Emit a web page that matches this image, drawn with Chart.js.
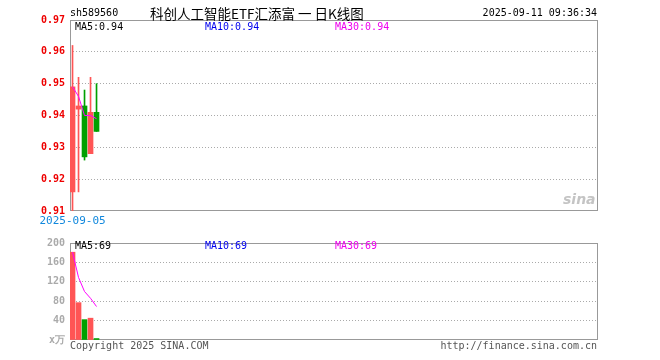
<!DOCTYPE html>
<html><head><meta charset="utf-8">
<script src="https://cdn.jsdelivr.net/npm/chart.js@4.4.0/dist/chart.umd.min.js"></script>
<style>
html,body{margin:0;padding:0;background:#fff;}
#wrap{position:relative;width:660px;height:360px;overflow:hidden;background:#fff;}
canvas{position:absolute;left:0;}
.t{position:absolute;white-space:nowrap;font-family:"DejaVu Sans Mono",monospace;font-size:10px;line-height:12px;}
</style></head><body>
<div id="wrap">
<canvas id="k" width="660" height="232" style="top:0"></canvas>
<canvas id="v" width="660" height="128" style="top:232px"></canvas>
<div class="t" style="left:70px;top:7px;color:#000">sh589560</div>
<div class="t" style="left:150px;top:5px;font-family:'Noto Sans CJK SC',sans-serif;font-size:13.5px;line-height:16px;color:#000">科创人工智能ETF汇添富&nbsp;一&nbsp;日K线图</div>
<div class="t" style="right:63px;top:7px;color:#000">2025-09-11 09:36:34</div>
<div class="t" id="ma5k" style="left:75px;top:21px;color:#000"></div>
<div class="t" id="ma10k" style="left:205px;top:21px;color:#0000ee"></div>
<div class="t" id="ma30k" style="left:335px;top:21px;color:#ee00ee"></div>
<div class="t" id="ma5v" style="left:75px;top:240px;color:#000"></div>
<div class="t" id="ma10v" style="left:205px;top:240px;color:#0000ee"></div>
<div class="t" id="ma30v" style="left:335px;top:240px;color:#ee00ee"></div>
<div class="t" style="left:563px;top:191px;font-family:'DejaVu Sans',sans-serif;font-style:italic;font-weight:bold;font-size:14px;line-height:16px;color:#c4c4c4">sina</div>
<div class="t" style="left:70px;top:340px;color:#555">Copyright 2025 SINA.COM</div>
<div class="t" style="right:63px;top:340px;color:#555">http://finance.sina.com.cn</div>
</div>
<script>
const code = 'sh589560';
const dates = ['2025-09-05','2025-09-08','2025-09-09','2025-09-10','2025-09-11'];
const openP  = [0.916, 0.942, 0.943, 0.928, 0.941];
const closeP = [0.949, 0.943, 0.927, 0.941, 0.935];
const highP  = [0.962, 0.952, 0.948, 0.952, 0.950];
const lowP   = [0.910, 0.916, 0.926, 0.928, 0.935];
const ma5P   = [0.949, 0.946, 0.940, 0.940, 0.939];
const volume = [181, 77, 42, 45, 3];
const ma5Vol = [181, 129, 100, 86, 69];
const priceTicks = [0.91, 0.92, 0.93, 0.94, 0.95, 0.96, 0.97];
const volTicks = [0, 40, 80, 120, 160, 200];
const maLabelsK = {ma5:'0.94', ma10:'0.94', ma30:'0.94'};
const maLabelsV = {ma5:'69', ma10:'69', ma30:'69'};
const SLOTS = 88;

document.getElementById('ma5k').textContent = 'MA5:' + maLabelsK.ma5;
document.getElementById('ma10k').textContent = 'MA10:' + maLabelsK.ma10;
document.getElementById('ma30k').textContent = 'MA30:' + maLabelsK.ma30;
document.getElementById('ma5v').textContent = 'MA5:' + maLabelsV.ma5;
document.getElementById('ma10v').textContent = 'MA10:' + maLabelsV.ma10;
document.getElementById('ma30v').textContent = 'MA30:' + maLabelsV.ma30;

const RED = '#ff5555', GREEN = '#00a000', MAG = '#ff00ff';
const up = openP.map((o,i)=>closeP[i] >= o);
const colors = up.map(u => u ? RED : GREEN);
const MONO = '"DejaVu Sans Mono", monospace';

const frame = {
  id:'frame',
  beforeDatasetsDraw(chart){
    const a = chart.chartArea, ctx = chart.ctx;
    ctx.save();
    ctx.strokeStyle = '#999'; ctx.lineWidth = 1;
    ctx.strokeRect(a.left+0.5, a.top+0.5, a.right-a.left-1, a.bottom-a.top-1);
    ctx.restore();
  }
};

function gridColor(c){
  const n = c.scale.ticks.length;
  return (c.index===0 || c.index===n-1) ? 'rgba(0,0,0,0)' : '#aaa';
}

function xAxis(showLabel, h){
  return {type:'linear', min:-0.42, max:SLOTS-0.42, offset:false,
    grid:{display:false, drawTicks:false}, border:{display:false},
    afterBuildTicks:a=>{a.ticks=[{value:0}];},
    afterFit:a=>{a.height=h;},
    ticks:{display:showLabel, autoSkip:false, maxRotation:0, padding:4, color:'#1188dd', font:{family:MONO, size:11},
      callback:v=>dates[v] ?? ''}
  };
}

new Chart(document.getElementById('k'), {
  type:'bar',
  data:{
    datasets:[
      {type:'line', data: ma5P.map((y,i)=>({x:i,y})), borderColor:MAG, borderWidth:1, pointRadius:0, order:0},
      {data: dates.map((d,i)=>({x:i, y:[openP[i], closeP[i]]})), backgroundColor:colors, barThickness:5, grouped:false, order:1},
      {data: dates.map((d,i)=>({x:i, y:[lowP[i], highP[i]]})), backgroundColor:colors, barThickness:1, grouped:false, order:2}
    ]
  },
  options:{
    responsive:false, devicePixelRatio:1, animation:false,
    layout:{padding:{left:0, top:20, right:62, bottom:0}},
    plugins:{legend:{display:false}, tooltip:{enabled:false}},
    scales:{
      x:xAxis(true, 21),
      y:{min:priceTicks[0], max:priceTicks[priceTicks.length-1],
        afterBuildTicks:a=>{a.ticks=priceTicks.map(v=>({value:v}));},
        afterFit:a=>{a.width=70;},
        grid:{color:gridColor, drawTicks:false, lineWidth:1},
        border:{display:false, dash:[1,2]},
        ticks:{padding:5, color:'#ee0000', font:{family:MONO, size:10, weight:'bold'}, callback:v=>v.toFixed(2)}
      }
    }
  },
  plugins:[frame]
});

new Chart(document.getElementById('v'), {
  type:'bar',
  data:{
    datasets:[
      {type:'line', data: ma5Vol.map((y,i)=>({x:i,y})), borderColor:MAG, borderWidth:1, pointRadius:0, order:0},
      {data: volume.map((y,i)=>({x:i,y})), backgroundColor:colors, barThickness:5, grouped:false, order:1}
    ]
  },
  options:{
    responsive:false, devicePixelRatio:1, animation:false,
    layout:{padding:{left:0, top:8, right:62, bottom:0}},
    plugins:{legend:{display:false}, tooltip:{enabled:false}},
    scales:{
      x:xAxis(false, 20),
      y:{min:volTicks[0], max:volTicks[volTicks.length-1],
        afterBuildTicks:a=>{a.ticks=volTicks.map(v=>({value:v}));},
        afterFit:a=>{a.width=70;},
        grid:{color:gridColor, drawTicks:false, lineWidth:1},
        border:{display:false, dash:[1,2]},
        ticks:{padding:5, color:'#aaa', font:{family:MONO, size:10, weight:'bold'}, callback:v=> v===0 ? 'x万' : String(v)}
      }
    }
  },
  plugins:[frame]
});
</script>
</body></html>
